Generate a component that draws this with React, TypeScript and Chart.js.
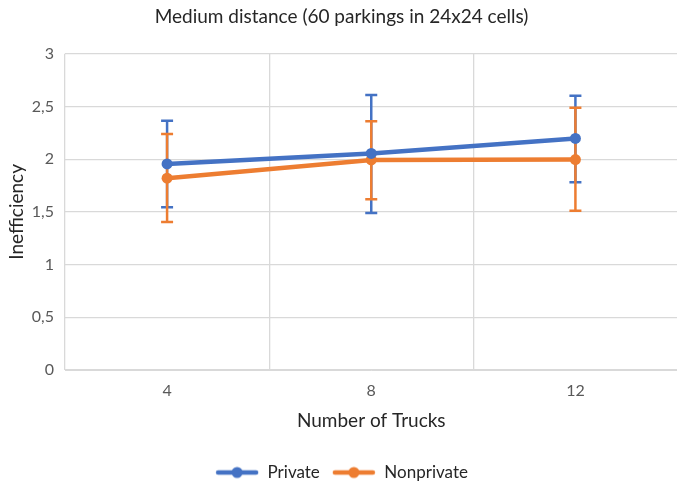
import React, { useEffect, useRef } from "react";
import { Chart, registerables } from "chart.js";

Chart.register(...registerables);

const categories = ["4", "8", "12"];
const privateValues = [1.955, 2.055, 2.197];
const privatePlus = [0.41, 0.555, 0.405];
const privateMinus = [0.41, 0.565, 0.415];
const nonprivateValues = [1.82, 1.993, 1.997];
const nonprivatePlus = [0.42, 0.367, 0.49];
const nonprivateMinus = [0.415, 0.373, 0.487];
const yTicks = [0, 0.5, 1, 1.5, 2, 2.5, 3];

const BLUE = "#4472C4";
const ORANGE = "#ED7D31";
const FONT = "Lato, 'Open Sans', sans-serif";

function legendImage(color: string) {
  const c = document.createElement("canvas");
  c.width = 44;
  c.height = 14;
  const ctx = c.getContext("2d")!;
  ctx.strokeStyle = color;
  ctx.lineWidth = 4.5;
  ctx.lineCap = "round";
  ctx.beginPath();
  ctx.moveTo(3, 7);
  ctx.lineTo(41, 7);
  ctx.stroke();
  ctx.fillStyle = color;
  ctx.beginPath();
  ctx.arc(22, 7, 5.5, 0, Math.PI * 2);
  ctx.fill();
  return c;
}

const errorBars = {
  id: "errorBars",
  beforeDatasetsDraw(chart: any) {
    const { ctx } = chart;
    const yScale = chart.scales.y;
    chart.data.datasets.forEach((ds: any, i: number) => {
      const meta = chart.getDatasetMeta(i);
      ctx.save();
      ctx.strokeStyle = ds.borderColor;
      ctx.lineWidth = 2.5;
      meta.data.forEach((pt: any, j: number) => {
        const v = ds.data[j];
        const top = yScale.getPixelForValue(v + ds.errPlus[j]);
        const bot = yScale.getPixelForValue(v - ds.errMinus[j]);
        const x = pt.x;
        const cap = 6;
        ctx.beginPath();
        ctx.moveTo(x, top);
        ctx.lineTo(x, bot);
        ctx.moveTo(x - cap, top);
        ctx.lineTo(x + cap, top);
        ctx.moveTo(x - cap, bot);
        ctx.lineTo(x + cap, bot);
        ctx.stroke();
      });
      ctx.restore();
    });
  },
};

export default function App() {
  const ref = useRef<HTMLCanvasElement>(null);
  useEffect(() => {
    const imgs = [legendImage(BLUE), legendImage(ORANGE)];
    const chart = new Chart(ref.current!, {
      type: "line",
      data: {
        labels: categories,
        datasets: [
          {
            label: "Private",
            data: privateValues,
            errPlus: privatePlus,
            errMinus: privateMinus,
            borderColor: BLUE,
            backgroundColor: BLUE,
            borderWidth: 4.5,
            pointRadius: 5.5,
            pointHoverRadius: 5.5,
            pointBackgroundColor: BLUE,
            pointBorderWidth: 0,
          } as any,
          {
            label: "Nonprivate",
            data: nonprivateValues,
            errPlus: nonprivatePlus,
            errMinus: nonprivateMinus,
            borderColor: ORANGE,
            backgroundColor: ORANGE,
            borderWidth: 4.5,
            pointRadius: 5.5,
            pointHoverRadius: 5.5,
            pointBackgroundColor: ORANGE,
            pointBorderWidth: 0,
          } as any,
        ],
      },
      options: {
        animation: false,
        responsive: false,
        layout: { padding: { left: 0, right: 0, top: 0, bottom: -6 } },
        plugins: {
          title: {
            display: true,
            text: "Medium distance (60 parkings in 24x24 cells)",
            color: "#262626",
            font: { family: FONT, size: 19, weight: "normal" },
            padding: { top: 5, bottom: 26 },
          },
          legend: {
            position: "bottom",
            labels: {
              usePointStyle: true,
              pointStyleWidth: 44,
              color: "#262626",
              font: { family: FONT, size: 17 },
              padding: 12,
              generateLabels: (chart: any) => {
                const labels = Chart.defaults.plugins.legend.labels.generateLabels(chart);
                return labels.map((l: any, i: number) => ({ ...l, pointStyle: imgs[i] }));
              },
            },
          },
          tooltip: { enabled: false },
        },
        scales: {
          x: {
            offset: true,
            grid: { offset: true, color: "#D9D9D9", lineWidth: 1.3, drawTicks: false },
            border: { display: true, color: "#D9D9D9" },
            ticks: { color: "#595959", font: { family: FONT, size: 16 }, padding: 11 },
            title: {
              display: true,
              text: "Number of Trucks",
              color: "#262626",
              font: { family: FONT, size: 19 },
              padding: { top: -2, bottom: 20 },
            },
          },
          y: {
            min: 0,
            max: 3,
            afterBuildTicks: (axis: any) => {
              axis.ticks = yTicks.map((v) => ({ value: v }));
            },
            afterFit: (axis: any) => {
              axis.width = 65;
            },
            grid: { color: "#D9D9D9", lineWidth: 1.3, drawTicks: false },
            border: { display: false },
            ticks: {
              color: "#595959",
              font: { family: FONT, size: 16 },
              padding: 11,
              callback: (v: any) => String(v).replace(".", ","),
            },
            title: {
              display: true,
              text: "Inefficiency",
              color: "#262626",
              font: { family: FONT, size: 19 },
              padding: { top: 5, bottom: 4 },
            },
          },
        },
      } as any,
      plugins: [errorBars],
    });
    return () => chart.destroy();
  }, []);
  return (
    <div style={{ position: "fixed", left: 0, top: 0, width: 677, height: 485, overflow: "hidden", background: "#fff" }}>
      <canvas ref={ref} width={683} height={485} style={{ display: "block" }} />
    </div>
  );
}
